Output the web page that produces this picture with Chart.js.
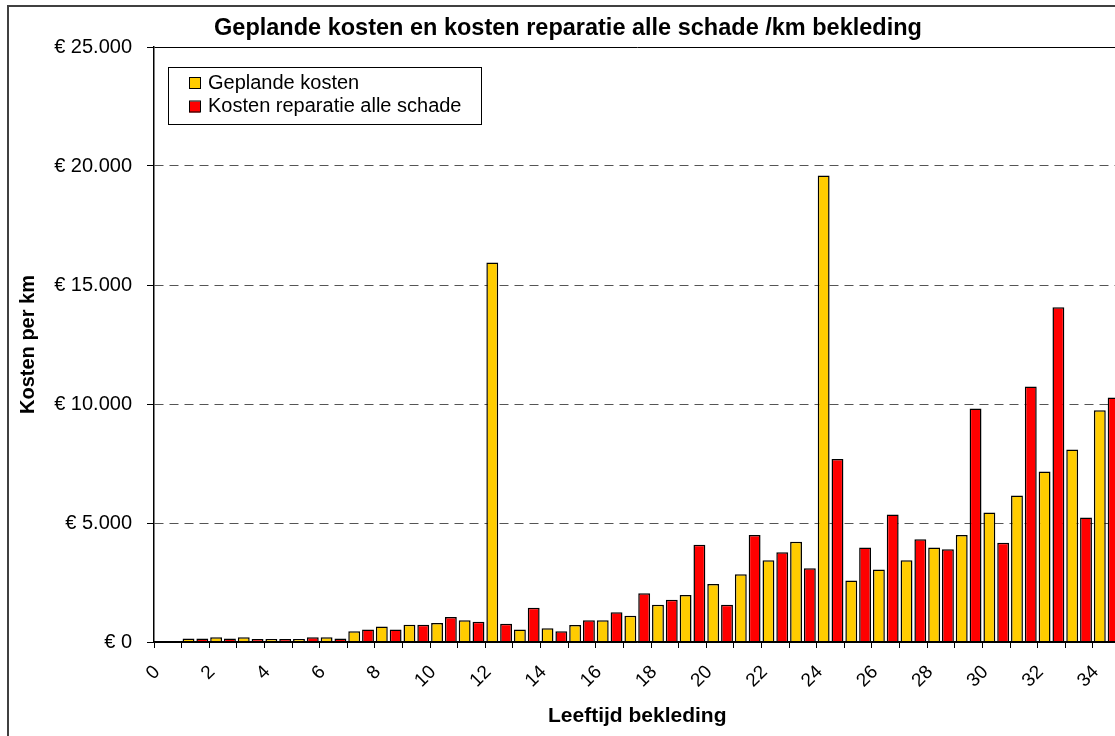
<!DOCTYPE html>
<html>
<head>
<meta charset="utf-8">
<script src="https://cdn.jsdelivr.net/npm/chart.js@4.4.0/dist/chart.umd.min.js"></script>
<style>
  html, body { margin: 0; padding: 0; background: #fff; overflow: hidden; }
  canvas { position: absolute; left: 0; top: 0; }
</style>
</head>
<body>
<canvas id="grafiek" width="1136" height="760"></canvas>
<script>
// leeftijd bekleding (jaren)
const leeftijden = ["0", "1", "2", "3", "4", "5", "6", "7", "8", "9", "10", "11", "12", "13", "14", "15", "16", "17",
  "18", "19", "20", "21", "22", "23", "24", "25", "26", "27", "28", "29", "30", "31", "32", "33", "34"];

// euro per km
const geplandeKosten = [null, 150, 200, 200, 130, 130, 200, 450, 650, 720, 800, 910, 15950, 520, 575, 715, 910, 1100,
  1570, 1975, 2440, 2850, 3430, 4210, 19600, 2580, 3050, 3440, 3970, 4500, 5440, 6155, 7165, 8090, 9740];

const kostenReparatie = [null, 150, 150, 130, 130, 200, 150, 530, 530, 720, 1050, 850, 770, 1440, 450, 910, 1250, 2050,
  1780, 4090, 1570, 4500, 3770, 3100, 7690, 3970, 5360, 4320, 3900, 9810, 4170, 10735, 14070, 5230, 10270];

const yMax = 25000;
const yStap = 5000;

const fontFamily = '"Liberation Sans", Arial, sans-serif';
Chart.defaults.font.family = fontFamily;
Chart.defaults.color = "#000";

function euro(v) {
  return "€ " + String(v).replace(/\B(?=(\d{3})+(?!\d))/g, ".");
}

// witte achtergrond + kader om de hele grafiek
const kader = {
  id: "kader",
  beforeDraw(chart) {
    const ctx = chart.ctx;
    ctx.save();
    ctx.fillStyle = "#fff";
    ctx.fillRect(0, 0, chart.width, chart.height);
    ctx.strokeStyle = "#404040";
    ctx.lineWidth = 2;
    ctx.strokeRect(8, 6, chart.width + 20, chart.height + 20);
    ctx.restore();
  }
};

// legenda met rand, binnen het plotgebied
const legenda = {
  id: "legenda",
  afterDraw(chart) {
    const ctx = chart.ctx;
    ctx.save();
    ctx.fillStyle = "#fff";
    ctx.fillRect(168, 67, 313, 57);
    ctx.strokeStyle = "#000";
    ctx.lineWidth = 1;
    ctx.strokeRect(168.5, 67.5, 313, 57);
    ctx.font = "20px " + fontFamily;
    ctx.textBaseline = "middle";
    chart.data.datasets.forEach((ds, i) => {
      const y = 83 + i * 23.5;
      ctx.fillStyle = ds.backgroundColor;
      ctx.fillRect(189, y - 5, 11, 11);
      ctx.strokeRect(189.5, y - 5.5, 11, 11);
      ctx.fillStyle = "#000";
      ctx.fillText(ds.label, 208, y);
    });
    ctx.restore();
  }
};

new Chart(document.getElementById("grafiek"), {
  type: "bar",
  data: {
    labels: leeftijden,
    datasets: [
      {
        label: "Geplande kosten",
        data: geplandeKosten,
        backgroundColor: "#FFCC00",
        borderColor: "#000",
        borderWidth: 1.5,
        categoryPercentage: 1,
        barPercentage: 0.86
      },
      {
        label: "Kosten reparatie alle schade",
        data: kostenReparatie,
        backgroundColor: "#FF0000",
        borderColor: "#000",
        borderWidth: 1.5,
        categoryPercentage: 1,
        barPercentage: 0.86
      }
    ]
  },
  options: {
    responsive: false,
    animation: false,
    layout: { padding: { left: 11, right: 11, top: 0, bottom: 0 } },
    plugins: {
      legend: { display: false },
      tooltip: { enabled: false },
      title: {
        display: true,
        text: "Geplande kosten en kosten reparatie alle schade /km bekleding",
        font: { size: 23.5, weight: "bold" },
        color: "#000",
        padding: { top: 14.4, bottom: 4.4 }
      }
    },
    scales: {
      x: {
        offset: true,
        grid: {
          offset: true,
          drawOnChartArea: false,
          tickLength: 6,
          color: "#000",
          tickColor: "#000"
        },
        border: { color: "#000", width: 1.5, z: 1 },
        ticks: {
          autoSkip: false,
          minRotation: 45,
          maxRotation: 45,
          labelOffset: -10.9,
          padding: 13,
          font: { size: 19 },
          color: "#000",
          callback: function (val, idx) {
            return idx % 2 === 0 ? this.getLabelForValue(val) : "";
          }
        },
        title: {
          display: true,
          text: "Leeftijd bekleding",
          font: { size: 21, weight: "bold" },
          color: "#000",
          padding: { top: 0, bottom: 31 }
        },
        afterFit: (scale) => { scale.height = 118; }
      },
      y: {
        min: 0,
        max: yMax,
        ticks: {
          stepSize: yStap,
          padding: 15,
          font: { size: 20 },
          color: "#000",
          callback: (v) => euro(v)
        },
        grid: {
          tickLength: 7,
          tickColor: "#000",
          tickBorderDash: [],
          color: (c) => (c.tick && c.tick.value % yMax !== 0) ? "#555" : "#000",
          lineWidth: 1
        },
        border: {
          color: "#000",
          width: 1.5,
          dash: (c) => (c.tick && c.tick.value % yMax !== 0) ? [9, 6] : []
        },
        title: {
          display: true,
          text: "Kosten per km",
          font: { size: 20, weight: "bold" },
          color: "#000",
          padding: { top: 5, bottom: 0 }
        },
        afterFit: (scale) => { scale.width = 143; }
      }
    }
  },
  plugins: [kader, legenda]
});
</script>
</body>
</html>
